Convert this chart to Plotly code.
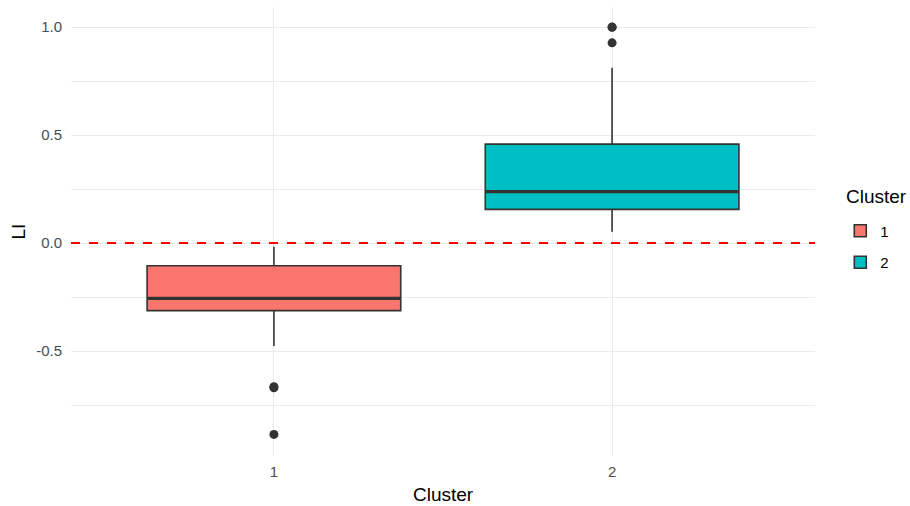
import plotly.graph_objects as go

clusters = ["1", "2"]
cluster_pos = [1, 2]
colors = ["#F8766D", "#00BFC4"]
q1 = [-0.313, 0.156]
median = [-0.256, 0.238]
q3 = [-0.105, 0.458]
lower_whisker = [-0.477, 0.052]
upper_whisker = [-0.017, 0.812]
outliers = [[-0.665, -0.670, -0.886], [1.0, 0.999, 0.927]]
y_ticks = [-0.5, 0.0, 0.5, 1.0]
y_tick_labels = ["-0.5", "0.0", "0.5", "1.0"]

box_width = 0.75
line_col = "#333333"

fig = go.Figure()
for i, c in enumerate(clusters):
    fig.add_trace(go.Box(
        x=[cluster_pos[i]], q1=[q1[i]], median=[median[i]], q3=[q3[i]],
        lowerfence=[lower_whisker[i]], upperfence=[upper_whisker[i]],
        width=box_width, name=c, legendgroup=c,
        fillcolor=colors[i], line=dict(color=line_col, width=1.6),
        whiskerwidth=0, boxpoints=False, hoverinfo="skip",
    ))
    # thicker median line (ggplot fatten)
    fig.add_trace(go.Scatter(
        x=[cluster_pos[i] - box_width / 2, cluster_pos[i] + box_width / 2],
        y=[median[i], median[i]], mode="lines",
        line=dict(color=line_col, width=3.2), showlegend=False, hoverinfo="skip",
    ))
    fig.add_trace(go.Scatter(
        x=[cluster_pos[i]] * len(outliers[i]), y=outliers[i], mode="markers",
        marker=dict(color=line_col, size=9), showlegend=False, hoverinfo="skip",
    ))

fig.add_hline(y=0, line=dict(color="#FF0000", width=2, dash="dash"), layer="above")

title_font = dict(size=19, color="#000000")
tick_font = dict(size=15, color="#4D4D4D")
fig.update_layout(
    width=910, height=506,
    margin=dict(l=71, r=95, t=7, b=50, autoexpand=False),
    plot_bgcolor="white", paper_bgcolor="white",
    font=dict(family="Liberation Sans, Arial, sans-serif", color="#000000"),
    legend=dict(
        x=1.034, xanchor="left", y=0.538, yanchor="top",
        font=dict(size=15, color="#000000"), tracegroupgap=9,
    ),
    showlegend=True,
    annotations=[
        dict(text="LI", xref="paper", yref="paper", x=0, y=0.5, xshift=-53,
             textangle=-90, showarrow=False, font=title_font,
             xanchor="center", yanchor="middle"),
        dict(text="Cluster", xref="paper", yref="paper", x=0.5, y=0, yshift=-38,
             showarrow=False, font=title_font, xanchor="center", yanchor="middle"),
        dict(text="Cluster", xref="paper", yref="paper", x=1.039, y=0.577,
             showarrow=False, font=title_font, xanchor="left", yanchor="middle"),
    ],
)
fig.update_xaxes(
    range=[0.4, 2.6], tickmode="array", tickvals=cluster_pos, ticktext=clusters,
    showgrid=True, gridcolor="#EBEBEB", gridwidth=1.2, zeroline=False,
    ticks="", tickfont=tick_font, automargin=False, ticklabelstandoff=5,
    showline=False,
)
fig.update_yaxes(
    range=[-0.986, 1.093], tickmode="array", tickvals=y_ticks, ticktext=y_tick_labels,
    showgrid=True, gridcolor="#EBEBEB", gridwidth=1.2, zeroline=False,
    minor=dict(tickmode="array", tickvals=[-0.75, -0.25, 0.25, 0.75],
               showgrid=True, gridcolor="#EBEBEB", gridwidth=1.2),
    ticks="", tickfont=tick_font, automargin=False, ticklabelstandoff=8,
    showline=False,
)

fig.write_html("out.html", config={"displayModeBar": False},
               post_script="document.body.style.margin='0px';")
